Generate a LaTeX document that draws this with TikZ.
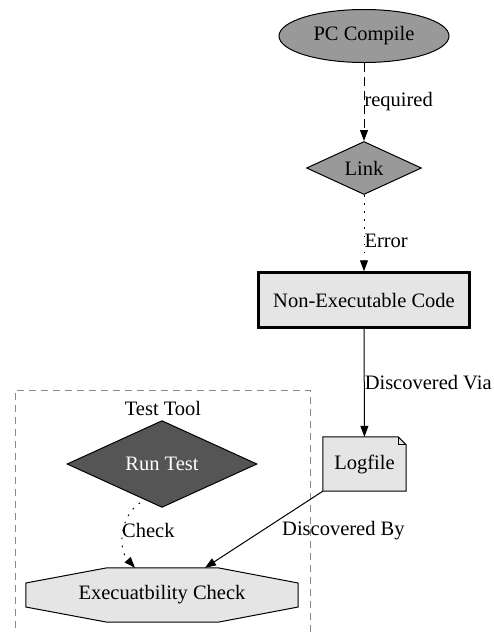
\documentclass[tikz,border=0pt]{standalone}
\usepackage{fontspec}
\newfontfamily\gvfont{Liberation Serif}
\usepackage{tikz}
\usetikzlibrary{calc}
\usetikzlibrary{shapes}
\usetikzlibrary{arrows.meta}

\definecolor{midgray}{HTML}{999999}
\definecolor{darkgray}{HTML}{555555}
\definecolor{lightgray}{HTML}{E5E5E5}
\definecolor{clustergray}{HTML}{888888}

\begin{document}
\begin{tikzpicture}[x=1pt,y=-1pt,
  font=\gvfont\fontsize{20.5}{24}\selectfont,
  edge/.style={line width=1pt,-{Triangle[length=11pt,width=8pt]}},
  lbl/.style={anchor=west,inner sep=0pt},
  dotline/.style={dash pattern=on 1.6pt off 6.5pt}]
\useasboundingbox (0,0) rectangle (494,633);

% nodes
\node[ellipse,draw,fill=midgray,line width=1pt,minimum width=170pt,minimum height=53pt,inner sep=0pt] (pc) at (364,36) {PC Compile};
\node[diamond,draw,fill=midgray,line width=1pt,minimum width=115pt,minimum height=53pt,inner sep=0pt] (link) at (364,168) {Link};
\node[rectangle,draw,fill=lightgray,line width=2.5pt,minimum width=211pt,minimum height=55pt,inner sep=0pt] (nec) at (364,300) {Non-Executable Code};
\node[rectangle,minimum width=83pt,minimum height=54pt,inner sep=0pt] (lf) at (364.5,464) {};
\node[diamond,draw,fill=darkgray,line width=1pt,minimum width=190pt,minimum height=54pt,inner sep=0pt,text=white] (rt) at (162,464) {Run Test};
\node[minimum width=272pt,minimum height=54pt,inner sep=0pt] (ec) at (162,595) {};

% cluster
\draw[clustergray,line width=1pt,dash pattern=on 7pt off 5pt] (15,640) -- (15,390) -- (310,390) -- (310,640);
\node (tt) at (163,408) {Test Tool};

% logfile note
\draw[fill=lightgray,line width=1pt] (lf.south west) -- (lf.north west) -- ($(lf.north east)+(-8,0)$) -- ($(lf.north east)+(0,8)$) -- (lf.south east) -- cycle;
\draw[line width=1pt] ($(lf.north east)+(-8,0)$) -- ($(lf.north east)+(-8,8)$) -- ($(lf.north east)+(0,8)$);
\node at (lf) {Logfile};

% octagon
\draw[fill=lightgray,line width=1pt] ($(ec.north)+(-55,0)$) -- ($(ec.north)+(56,0)$) -- ($(ec.east)+(0,-12)$) -- ($(ec.east)+(0,12)$) -- ($(ec.south)+(56,0)$) -- ($(ec.south)+(-55,0)$) -- ($(ec.west)+(0,12)$) -- ($(ec.west)+(0,-12)$) -- cycle;
\node at (ec) {Execuatbility Check};

% edges
\draw[edge,dash pattern=on 9pt off 5pt] (pc) -- (link) node[lbl,pos=0.5] {required};
\draw[edge,dotline] (link) -- (nec) node[lbl,pos=0.6] {Error};
\draw[edge] (nec) -- (lf) node[lbl,pos=0.5] {Discovered Via};
\draw[edge] (lf.south west) -- ($(ec.north)+(43,0)$);
\node[lbl] (db) at (282,531) {Discovered By};
\draw[edge,dotline] ($(rt.south)+(-22,-5)$) .. controls (121,515) and (117,548) .. ($(ec.north)+(-27,0)$);
\node[lbl] (ck) at (122,530) {Check};
\end{tikzpicture}
\end{document}
